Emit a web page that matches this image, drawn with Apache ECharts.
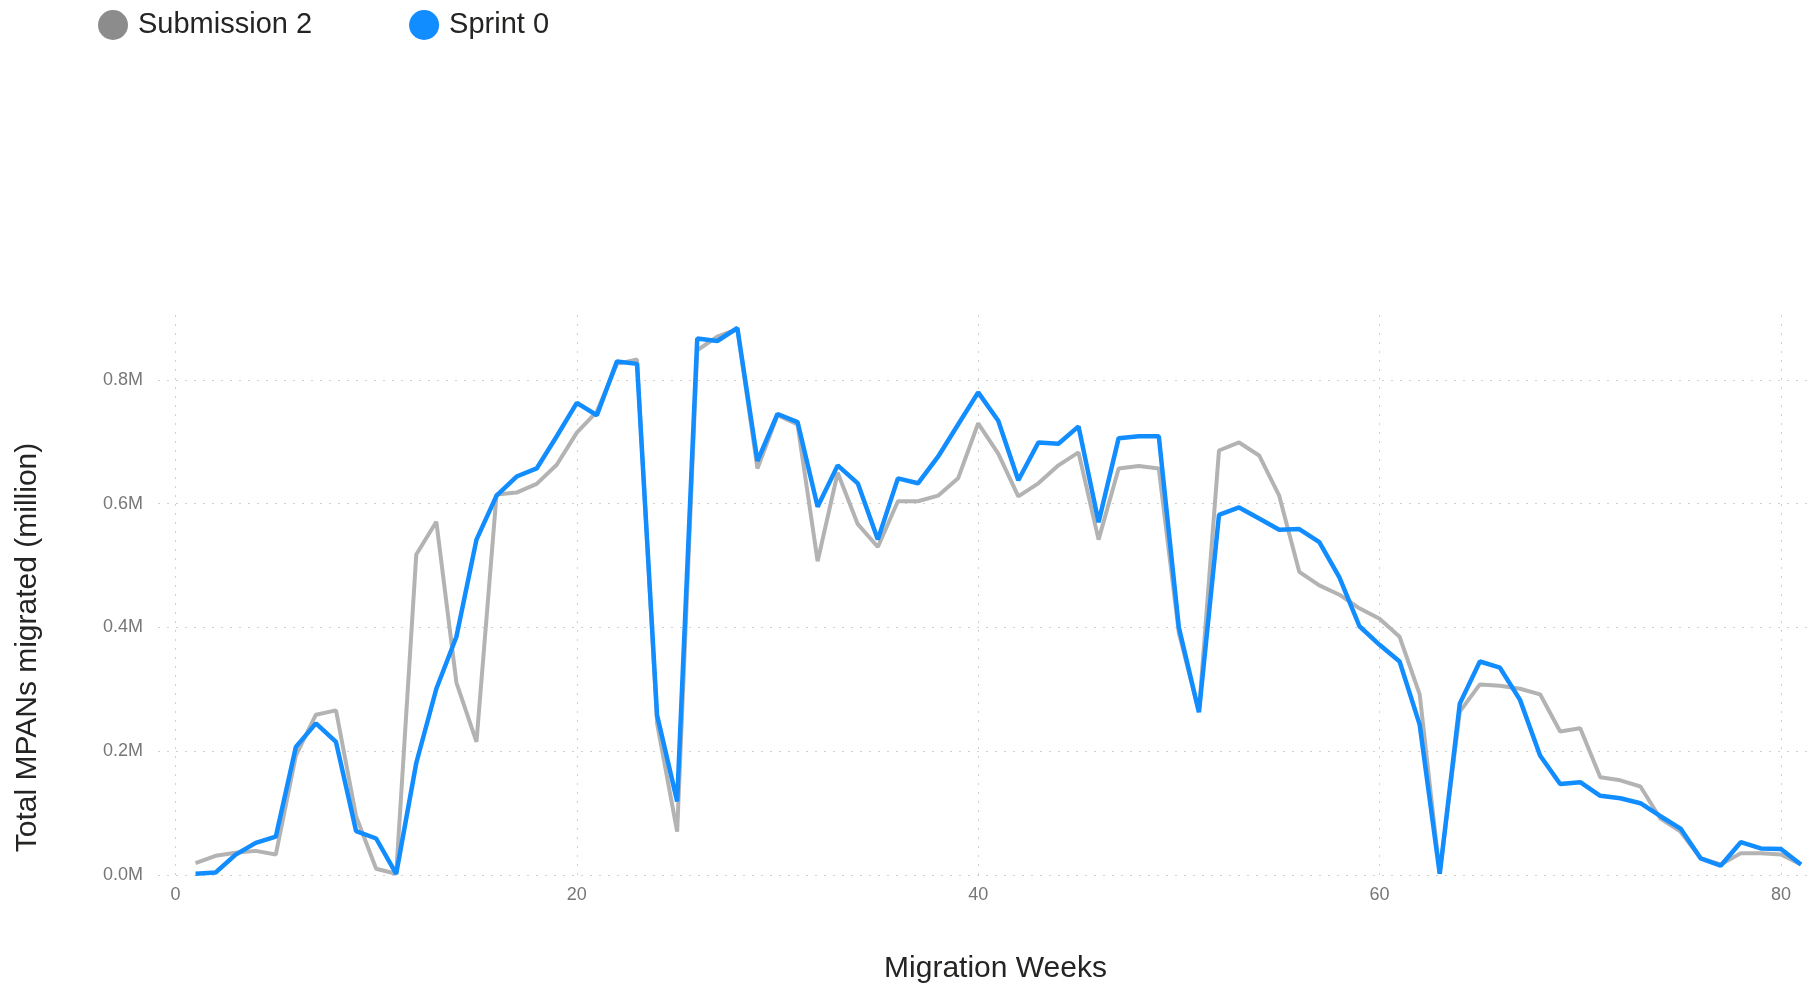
<!DOCTYPE html>
<html>
<head>
<meta charset="utf-8">
<script src="https://cdn.jsdelivr.net/npm/echarts@6/dist/echarts.min.js"></script>
<style>
  html, body { margin: 0; padding: 0; background: #fff; }
  #chart { width: 1813px; height: 986px; }
</style>
</head>
<body>
<div id="chart"></div>
<script>
// migration weeks 1..81
var weeks = [];
for (var w = 1; w <= 81; w++) weeks.push(w);

// Total MPANs migrated, in millions
var submission2 = [
  0.019, 0.031, 0.036, 0.039, 0.033, 0.193, 0.259, 0.266, 0.095, 0.010,
  0.002, 0.518, 0.571, 0.311, 0.215, 0.615, 0.618, 0.632, 0.663, 0.715,
  0.749, 0.826, 0.833, 0.245, 0.070, 0.848, 0.870, 0.882, 0.657, 0.743,
  0.728, 0.507, 0.650, 0.567, 0.530, 0.604, 0.604, 0.613, 0.641, 0.730,
  0.681, 0.612, 0.633, 0.662, 0.683, 0.542, 0.657, 0.661, 0.657, 0.391,
  0.264, 0.686, 0.699, 0.678, 0.613, 0.490, 0.468, 0.453, 0.431, 0.414,
  0.385, 0.292, 0.002, 0.264, 0.308, 0.306, 0.301, 0.292, 0.232, 0.237,
  0.158, 0.153, 0.143, 0.091, 0.070, 0.027, 0.017, 0.035, 0.035, 0.033,
  0.017
];
var sprint0 = [
  0.002, 0.004, 0.033, 0.052, 0.062, 0.207, 0.245, 0.215, 0.071, 0.059,
  0.002, 0.181, 0.301, 0.385, 0.542, 0.613, 0.644, 0.657, 0.709, 0.763,
  0.743, 0.830, 0.826, 0.258, 0.119, 0.867, 0.863, 0.884, 0.669, 0.745,
  0.732, 0.595, 0.662, 0.633, 0.542, 0.641, 0.633, 0.676, 0.728, 0.780,
  0.734, 0.638, 0.699, 0.697, 0.725, 0.570, 0.706, 0.709, 0.709, 0.400,
  0.263, 0.582, 0.594, 0.576, 0.558, 0.559, 0.538, 0.481, 0.402, 0.372,
  0.345, 0.243, 0.002, 0.277, 0.345, 0.335, 0.283, 0.193, 0.147, 0.150,
  0.128, 0.124, 0.116, 0.095, 0.075, 0.027, 0.015, 0.053, 0.043, 0.042,
  0.017
];
var xTicks = [0, 20, 40, 60, 80];
var yTicks = [0, 0.2, 0.4, 0.6, 0.8];

function pairs(vals) {
  return weeks.map(function (w, i) { return [w, vals[i]]; });
}

var chart = echarts.init(document.getElementById('chart'));
var gridLine = { show: true, lineStyle: { color: '#d0d0d0', width: 1, type: [2, 7] } };

var option = {
  animation: false,
  textStyle: { fontFamily: 'Liberation Sans, Arial, sans-serif' },
  legend: {
    left: 93,
    top: 5,
    icon: 'circle',
    itemWidth: 40,
    itemHeight: 30,
    itemGap: 97,
    textStyle: { fontSize: 29, color: '#252423' },
    data: ['Submission 2', 'Sprint 0']
  },
  grid: { left: 158, right: 0, top: 315, bottom: 111, containLabel: false, outerBoundsMode: 'none' },
  xAxis: {
    type: 'value',
    min: -0.87,
    max: 81.6,
    name: 'Migration Weeks',
    nameLocation: 'middle',
    nameGap: 79,
    nameTextStyle: { fontSize: 30, color: '#252423', padding: [0, 0, 0, 20] },
    axisLine: { show: false },
    axisTick: { show: false, customValues: xTicks },
    axisLabel: { customValues: xTicks, fontSize: 18, color: '#777', margin: 11 },
    splitLine: gridLine
  },
  yAxis: {
    type: 'value',
    min: 0,
    max: 0.905,
    name: 'Total MPANs migrated (million)',
    nameLocation: 'middle',
    nameGap: 115,
    nameTextStyle: { fontSize: 30, color: '#252423', padding: [0, 105, 0, 0] },
    axisLine: { show: false },
    axisTick: { show: false, customValues: yTicks },
    axisLabel: {
      customValues: yTicks, fontSize: 18, color: '#777', margin: 15,
      formatter: function (v) { return v.toFixed(1) + 'M'; }
    },
    splitLine: gridLine
  },
  series: [
    {
      name: 'Submission 2',
      type: 'line',
      data: pairs(submission2),
      showSymbol: false,
      itemStyle: { color: '#8c8c8c' },
      lineStyle: { color: '#b3b3b3', width: 4 }
    },
    {
      name: 'Sprint 0',
      type: 'line',
      data: pairs(sprint0),
      showSymbol: false,
      itemStyle: { color: '#118dff' },
      lineStyle: { color: '#118dff', width: 4.5 }
    }
  ]
};
chart.setOption(option);
</script>
</body>
</html>
